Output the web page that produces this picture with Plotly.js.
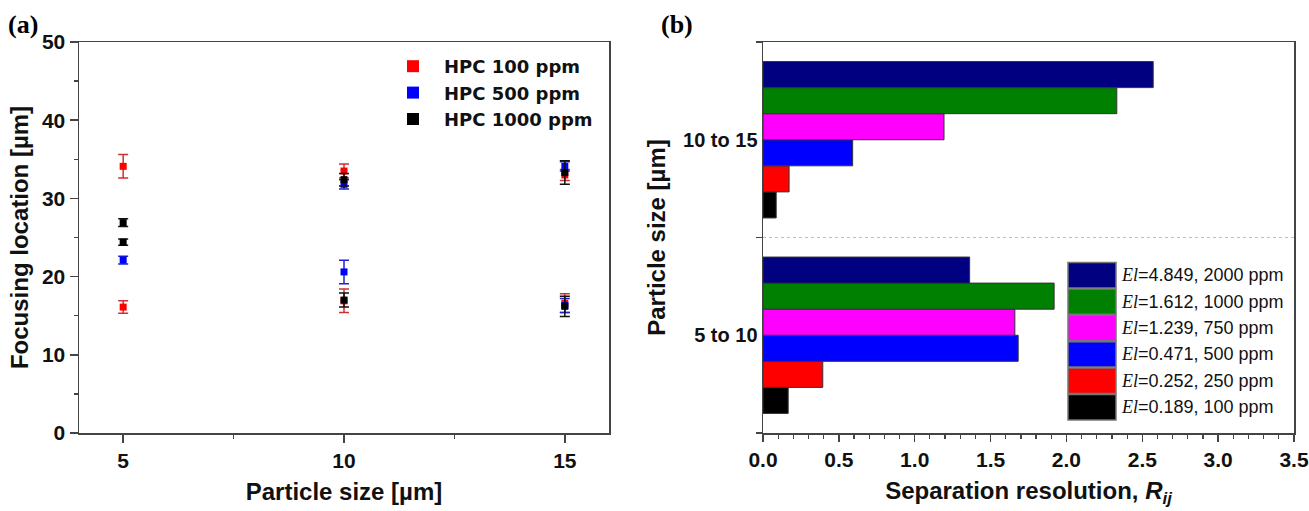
<!DOCTYPE html>
<html>
<head>
<meta charset="utf-8">
<script src="https://cdn.plot.ly/plotly-3.0.1.min.js"></script>
<style>html,body{margin:0;padding:0;background:#fff;}#chart{width:1309px;height:511px;}</style>
</head>
<body>
<div id="chart"></div>
<script>
// ---------- Panel (a): focusing location ----------
const hpc100X = [5, 5, 10, 10, 15, 15];
const hpc100Y = [34.1, 16.1, 33.5, 16.9, 33.0, 16.6];
const hpc100Err = [1.5, 0.8, 0.9, 1.5, 0.7, 1.2];

const hpc500X = [5, 10, 10, 15, 15];
const hpc500Y = [22.1, 31.8, 20.6, 34.1, 16.3];
const hpc500Err = [0.5, 0.6, 1.5, 0.6, 0.9];

const hpc1000X = [5, 5, 10, 10, 15, 15];
const hpc1000Y = [26.9, 24.4, 32.4, 17.0, 33.3, 16.2];
const hpc1000Err = [0.5, 0.4, 0.8, 0.9, 1.5, 1.3];

const seriesANames = ['HPC 100 ppm', 'HPC 500 ppm', 'HPC 1000 ppm'];

// ---------- Panel (b): separation resolution ----------
const pairCategories = ['5 to 10', '10 to 15'];
const concLabels = ['100 ppm', '250 ppm', '500 ppm', '750 ppm', '1000 ppm', '2000 ppm'];
const elValues = ['0.189', '0.252', '0.471', '1.239', '1.612', '4.849'];
const barColors = ['#000000', '#ff0000', '#0000ff', '#ff00ff', '#008000', '#000080'];
// resolution values for [5 to 10, 10 to 15]
const rij100 = [0.166, 0.087];
const rij250 = [0.394, 0.172];
const rij500 = [1.682, 0.591];
const rij750 = [1.660, 1.193];
const rij1000 = [1.919, 2.332];
const rij2000 = [1.362, 2.572];
const rijSeries = [rij100, rij250, rij500, rij750, rij1000, rij2000];

const W = 1309, H = 511;
const px = v => v / W;
const py = v => 1 - v / H;

const sansBold = 'Liberation Sans, Arial, sans-serif';
const tickFont = {family: 'Liberation Sans, Arial, sans-serif', size: 21, color: '#111', weight: 'bold'};
const axisColor = '#444';

function scatterTrace(x, y, err, name, color, errColor) {
  return {
    type: 'scatter', mode: 'markers', x: x, y: y, name: name,
    xaxis: 'x', yaxis: 'y',
    marker: {symbol: 'square', size: 7, color: color},
    error_y: {type: 'data', array: err, visible: true, color: errColor, thickness: 1.5, width: 5},
    legend: 'legend'
  };
}

const traces = [
  scatterTrace(hpc100X, hpc100Y, hpc100Err, seriesANames[0], '#ff0000', '#d03030'),
  scatterTrace(hpc500X, hpc500Y, hpc500Err, seriesANames[1], '#0000ff', '#2020d0'),
  scatterTrace(hpc1000X, hpc1000Y, hpc1000Err, seriesANames[2], '#000000', '#111111')
];

rijSeries.forEach((vals, i) => {
  traces.push({
    type: 'bar', orientation: 'h', x: vals, y: pairCategories,
    xaxis: 'x2', yaxis: 'y2', showlegend: false,
    name: 'El=' + elValues[i] + ', ' + concLabels[i],
    marker: {color: barColors[i], line: {color: '#333', width: 1}}
  });
});

// custom legend for panel (b), built from the arrays (top row = last series)
const shapes = [];
const annotations = [];
const legTop = 262, rowH = 26.4, swL = 1068, swR = 1116;
for (let k = 0; k < concLabels.length; k++) {
  const i = concLabels.length - 1 - k;
  const y0 = legTop + k * rowH;
  shapes.push({type: 'rect', xref: 'paper', yref: 'paper',
    x0: px(swL), x1: px(swR), y0: py(y0 + 0.5), y1: py(y0 + rowH - 0.5),
    fillcolor: barColors[i], line: {color: '#777', width: 1.5}});
  annotations.push({xref: 'paper', yref: 'paper', x: px(1119), y: py(y0 + rowH / 2),
    xanchor: 'left', yanchor: 'middle', showarrow: false,
    text: '<span style="font-family:Liberation Serif, Times New Roman, serif"><i>El</i></span>=' + elValues[i] + ', ' + concLabels[i],
    font: {family: 'Liberation Sans, Arial, sans-serif', size: 18, color: '#111'}});
}
shapes.unshift({type: 'rect', xref: 'paper', yref: 'paper', x0: px(1064), x1: px(1292), y0: py(258), y1: py(424),
  fillcolor: '#fff', line: {width: 0}});
shapes.forEach(s => s.layer = 'above');

annotations.push({xref: 'paper', yref: 'paper', x: px(6), y: py(24), xanchor: 'left', yanchor: 'middle', showarrow: false,
  text: '<b>(a)</b>', font: {family: 'Liberation Serif, Times New Roman, serif', size: 26, color: '#000'}});
annotations.push({xref: 'paper', yref: 'paper', x: px(659), y: py(24), xanchor: 'left', yanchor: 'middle', showarrow: false,
  text: '<b>(b)</b>', font: {family: 'Liberation Serif, Times New Roman, serif', size: 26, color: '#000'}});

const yDom = [py(433), py(42)];

const layout = {
  width: W, height: H,
  margin: {l: 0, r: 0, t: 0, b: 0},
  paper_bgcolor: '#fff', plot_bgcolor: '#fff',
  showlegend: true,
  barmode: 'group', bargap: 0.2, bargroupgap: 0,
  xaxis: {
    domain: [px(79), px(609)], range: [4, 16], anchor: 'y',
    tickmode: 'array', tickvals: [5, 10, 15],
    ticks: 'outside', ticklen: 8, tickwidth: 1.5, tickcolor: axisColor,
    minor: {tickvals: [7.5, 12.5], ticks: 'outside', ticklen: 4, tickwidth: 1.5, tickcolor: axisColor, showgrid: false},
    showline: true, linecolor: axisColor, linewidth: 1.5, mirror: true,
    showgrid: false, zeroline: false, tickfont: tickFont,
    title: {text: 'Particle size [µm]', font: {family: sansBold, size: 24, color: '#111', weight: 'bold'}, standoff: 12}
  },
  yaxis: {
    domain: yDom, range: [0, 50], anchor: 'x',
    dtick: 10, ticks: 'outside', ticklen: 8, tickwidth: 1.5, tickcolor: axisColor,
    minor: {dtick: 5, ticks: 'outside', ticklen: 4, tickwidth: 1.5, tickcolor: axisColor, showgrid: false},
    showline: true, linecolor: axisColor, linewidth: 1.5, mirror: true,
    showgrid: false, zeroline: false, tickfont: tickFont,
    title: {text: 'Focusing location [µm]', font: {family: sansBold, size: 24, color: '#111', weight: 'bold'}, standoff: 6}
  },
  xaxis2: {
    domain: [px(763), px(1294)], range: [0, 3.5], anchor: 'y2',
    dtick: 0.5, tickformat: '.1f', ticks: 'outside', ticklen: 7, tickwidth: 1.5, tickcolor: axisColor,
    minor: {dtick: 0.1, ticks: 'outside', ticklen: 4, tickwidth: 1.2, tickcolor: axisColor, showgrid: false},
    showline: true, linecolor: axisColor, linewidth: 1.5, mirror: true,
    showgrid: false, zeroline: false, tickfont: tickFont,
    title: {text: 'Separation resolution, <i>R</i><sub><i>ij</i></sub>', font: {family: sansBold, size: 24, color: '#111', weight: 'bold'}, standoff: 12}
  },
  yaxis2: {
    domain: yDom, range: [-0.5, 1.5], anchor: 'x2', type: 'category',
    categoryorder: 'array', categoryarray: pairCategories,
    tickson: 'boundaries', ticks: 'outside', ticklen: 6, tickwidth: 1.5, tickcolor: axisColor,
    showline: true, linecolor: axisColor, linewidth: 1.5, mirror: true,
    showgrid: true, gridcolor: '#bbb', griddash: 'dot', gridwidth: 1,
    zeroline: false, tickfont: {family: 'Liberation Sans, Arial, sans-serif', size: 20, color: '#111', weight: 'bold'},
    title: {text: 'Particle size [µm]', font: {family: sansBold, size: 24, color: '#111', weight: 'bold'}, standoff: 10}
  },
  legend: {
    x: px(382), y: py(48), xanchor: 'left', yanchor: 'top',
    bgcolor: 'rgba(0,0,0,0)', borderwidth: 0,
    font: {family: 'DejaVu Sans, sans-serif', size: 18, color: '#111', weight: 'bold'},
    tracegroupgap: 0, itemsizing: 'constant', itemwidth: 52
  },
  shapes: shapes,
  annotations: annotations
};

Plotly.newPlot('chart', traces, layout, {displayModeBar: false, staticPlot: true});
</script>
</body>
</html>
